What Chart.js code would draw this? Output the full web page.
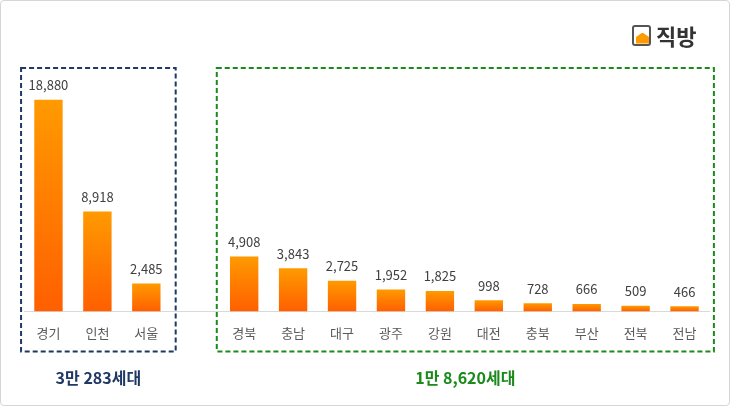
<!DOCTYPE html>
<html>
<head>
<meta charset="utf-8">
<script src="https://cdn.jsdelivr.net/npm/chart.js@4"></script>
<style>
  body { margin: 0; background: #fff; font-family: "Noto Sans CJK KR", "Noto Sans", sans-serif; }
  #wrap { position: relative; width: 728px; height: 404px; border: 1px solid #d6d6d6; border-radius: 4px; }
  #logo { position: absolute; left: 631px; top: 18px; display: flex; align-items: center; gap: 5px;
          font-weight: bold; font-size: 22px; color: #333; }
  #logo .ic { width: 19px; height: 21px; border: 2px solid #555; border-radius: 3px; position: relative; box-sizing: border-box; }
  #logo .ic::after { content: ""; position: absolute; left: 2px; top: 6px; width: 13px; height: 11px; background: #ff9a00;
          clip-path: polygon(50% 0, 100% 40%, 100% 100%, 0 100%, 0 40%); }
</style>
</head>
<body>
<div id="wrap">
  <canvas id="myChart" width="728" height="404"></canvas>
  <div id="logo"><div class="ic"></div>직방</div>
</div>
<script>
// script
const regions = ['경기', '인천', '서울', '', '경북', '충남', '대구', '광주', '강원', '대전', '충북', '부산', '전북', '전남'];
const households = [18880, 8918, 2485, null, 4908, 3843, 2725, 1952, 1825, 998, 728, 666, 509, 466];
const groupLabels = ['3만 283세대', '1만 8,620세대'];
const groupColors = ['#1f3864', '#1a8a1a'];
const groupRanges = [[0, 2], [4, 13]];

function barGradient(ctx) {
    const chart = ctx.chart;
    const y = chart.scales.y;
    const v = households[ctx.dataIndex];
    if (!chart.chartArea || !y || v == null) return '#ff8000';
    const top = y.getPixelForValue(v);
    const bottom = y.getPixelForValue(0);
    if (!isFinite(top) || !isFinite(bottom)) return '#ff8000';
    const g = chart.ctx.createLinearGradient(0, top, 0, bottom);
    g.addColorStop(0, '#ff9a00');
    g.addColorStop(1, '#ff5f00');
    return g;
}

const extras = {
    id: 'extras',
    afterDatasetsDraw(chart) {
        const c = chart.ctx;
        const meta = chart.getDatasetMeta(0);
        c.save();
        c.font = '13px "Noto Sans CJK KR", sans-serif';
        c.fillStyle = '#404040';
        c.textAlign = 'center';
        c.textBaseline = 'bottom';
        meta.data.forEach((bar, i) => {
            if (households[i] == null) return;
            c.fillText(households[i].toLocaleString('en-US'), bar.x, bar.y - 8);
        });

        const x = chart.scales.x;
        const area = chart.chartArea;
        const slot = x.getPixelForValue(1) - x.getPixelForValue(0);
        groupRanges.forEach((r, k) => {
            const left = x.getPixelForValue(r[0]) - slot * 0.56;
            const right = x.getPixelForValue(r[1]) + slot * 0.6;
            c.strokeStyle = groupColors[k];
            c.lineWidth = 2;
            c.setLineDash([5, 3]);
            c.strokeRect(left, area.top + 1, right - left, area.bottom - area.top + 39);
            c.setLineDash([]);
            c.fillStyle = groupColors[k];
            c.font = 'bold 16px "Noto Sans CJK KR", sans-serif';
            c.textBaseline = 'middle';
            c.fillText(groupLabels[k], (left + right) / 2, 377);
        });
        c.restore();
    }
};

new Chart(document.getElementById('myChart'), {
    type: 'bar',
    data: {
        labels: regions,
        datasets: [{
            data: households,
            backgroundColor: barGradient,
            barPercentage: 0.58,
            categoryPercentage: 1
        }]
    },
    options: {
        responsive: false,
        animation: false,
        layout: { padding: { left: 23, right: 20, top: 66, bottom: 58 } },
        plugins: { legend: { display: false }, tooltip: { enabled: false } },
        scales: {
            x: {
                grid: { display: false },
                border: { color: '#d9d9d9' },
                ticks: { color: '#595959', font: { size: 13, family: '"Noto Sans CJK KR", sans-serif' }, padding: 6 }
            },
            y: { display: false, min: 0, max: 21800 }
        }
    },
    plugins: [extras]
});
</script>
</body>
</html>
